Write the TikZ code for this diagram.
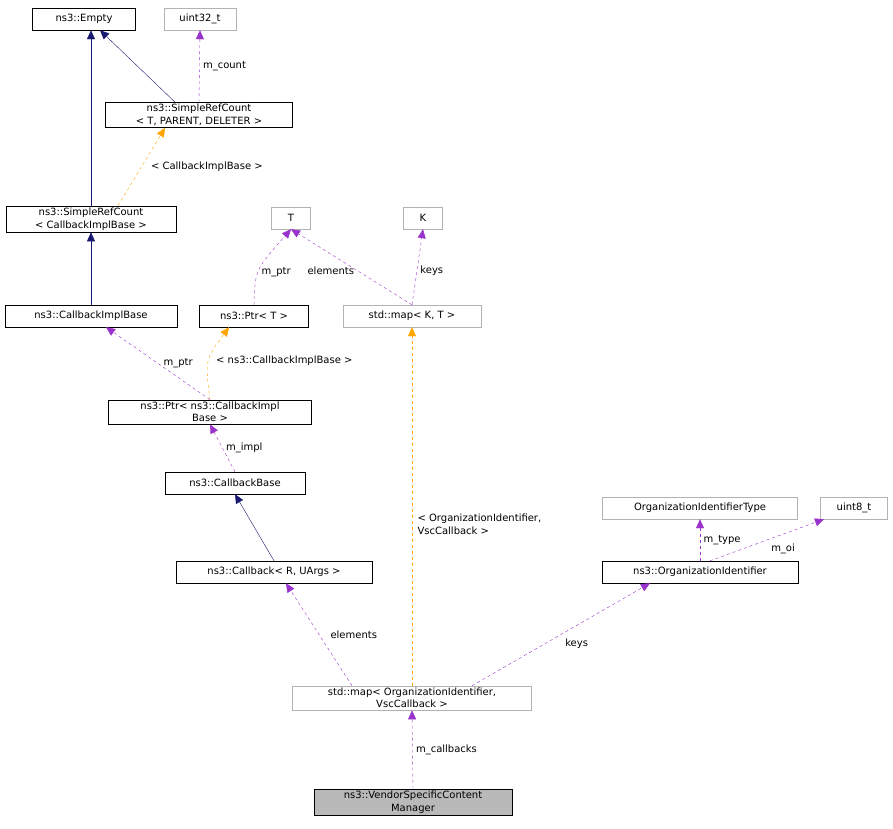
\documentclass[tikz,border=0pt]{standalone}
\usepackage{fontspec}
\setmainfont{DejaVu Sans}
\usetikzlibrary{positioning,arrows.meta,calc}
\definecolor{navy}{rgb}{0.10,0.10,0.44}
\definecolor{purp}{rgb}{0.60,0.20,0.80}
\definecolor{orng}{rgb}{1.00,0.65,0.00}
\begin{document}
\begin{tikzpicture}[x=1pt,y=-1pt,font=\fontsize{10}{12.5}\selectfont,
    box/.style={draw=black,fill=white,inner sep=2pt,align=center,minimum height=22pt},
    gbox/.style={box,draw=gray!60},
    inh/.style={draw=navy,-{Triangle[length=9pt,width=8pt]}},
    use/.style={draw=purp,dashed,-{Triangle[length=9pt,width=8pt]}},
    tpl/.style={draw=orng,dashed,-{Triangle[length=9pt,width=8pt]}}]
    \useasboundingbox (0,0) rectangle (893,828);

    \node(empty) [box,minimum width=103pt] at (84,19) {ns3::Empty};
    \node(u32) [gbox,minimum width=72pt] at (200,19) {uint32\_t};
    \node(srct) [box,minimum width=187pt] at (199,115) {ns3::SimpleRefCount\\< T, PARENT, DELETER >};
    \node(srcb) [box,minimum width=170pt] at (91,219) {ns3::SimpleRefCount\\< CallbackImplBase >};
    \node(t) [gbox,minimum width=39pt] at (291,218) {T};
    \node(k) [gbox,minimum width=39pt] at (423,218) {K};
    \node(cib) [box,minimum width=172pt] at (91,316) {ns3::CallbackImplBase};
    \node(ptrt) [box,minimum width=109pt] at (254,316) {ns3::Ptr< T >};
    \node(mapkt) [gbox,minimum width=138pt] at (412,316) {std::map< K, T >};
    \node(ptrc) [box,minimum width=203pt] at (210,412) {ns3::Ptr< ns3::CallbackImpl\\Base >};
    \node(cbb) [box,minimum width=140pt] at (235,483) {ns3::CallbackBase};
    \node(oit) [gbox,minimum width=195pt] at (700,508) {OrganizationIdentifierType};
    \node(u8) [gbox,minimum width=67pt] at (854,508) {uint8\_t};
    \node(cb) [box,minimum width=196pt] at (274,572) {ns3::Callback< R, UArgs >};
    \node(oi) [box,minimum width=196pt] at (700,572) {ns3::OrganizationIdentifier};
    \node(mapov) [gbox,minimum width=239pt] at (412,698) {std::map< OrganizationIdentifier,\\VscCallback >};
    \node(vsc) [box,fill=gray!55,minimum width=198pt] at (413,802) {ns3::VendorSpecificContent\\Manager};

    \draw[inh] ($(srct.north)+(-24,0)$) -- ($(empty.south)+(16,0)$);
    \draw[inh] (srcb.north) -- (srcb.north |- empty.south);
    \draw[use] (srct.north) -- (u32.south) node[midway,right] {m\_count};
    \draw[tpl] ($(srcb.north)+(27,0)$) -- ($(srct.south)+(-34,0)$) node[midway,right=6pt] {< CallbackImplBase >};
    \draw[inh] (cib) -- (srcb);
    \draw[use] (ptrt.north) .. controls (255,270) .. (t.south) node[pos=0.45,right] {m\_ptr};
    \draw[use] (mapkt.north) -- (t.south) node[pos=0.45,left] {elements};
    \draw[use] (mapkt.north) -- (k.south) node[pos=0.45,right] {keys};
    \draw[use] (ptrc.north) -- ($(cib.south)+(15,0)$) node[midway,right=2pt] {m\_ptr};
    \draw[tpl] (ptrc.north) .. controls (205,360) .. ($(ptrt.south)+(-25,0)$) node[pos=0.5,right=4pt] {< ns3::CallbackImplBase >};
    \draw[use] (cbb.north) -- (ptrc.south) node[midway,right] {m\_impl};
    \draw[inh] (cb.north) -- (cbb.south);
    \draw[tpl] (mapov.north) -- (mapkt.south) node[pos=0.45,right=2pt,align=left] {< OrganizationIdentifier,\\VscCallback >};
    \draw[use] ($(mapov.north)+(-60,0)$) -- ($(cb.south)+(12,0)$) node[midway,right=8pt] {elements};
    \draw[use] ($(mapov.north)+(60,0)$) -- ($(oi.south)+(-50,0)$) node[midway,below right=1pt] {keys};
    \draw[use] (oi.north) -- (oit.south) node[midway,right] {m\_type};
    \draw[use] ($(oi.north)+(10,0)$) -- ($(u8.south)+(-30,0)$) node[midway,below right=1pt] {m\_oi};
    \draw[use] (vsc.north) -- (mapov.south) node[midway,right] {m\_callbacks};
\end{tikzpicture}
\end{document}
